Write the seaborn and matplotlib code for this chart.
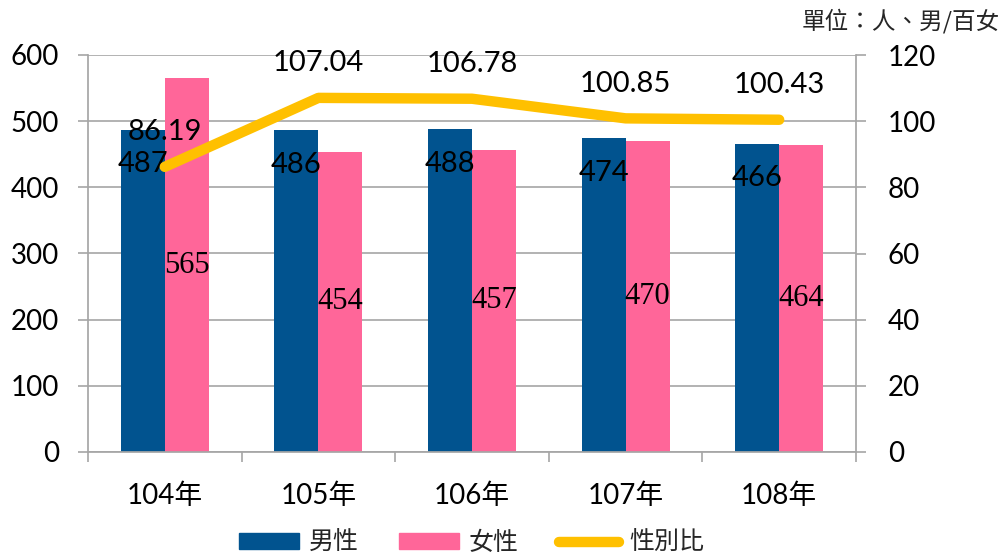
import pandas as pd
import seaborn as sns
import matplotlib.pyplot as plt

# 資料
years = ['104年', '105年', '106年', '107年', '108年']
male = [487, 486, 488, 474, 466]
female = [565, 454, 457, 470, 464]
ratio = [86.19, 107.04, 106.78, 100.85, 100.43]

male_color = '#01538F'
female_color = '#FF6699'
line_color = '#FFC000'
grid_color = '#A6A6A6'

sns.set_theme(style='white')
plt.rcParams['font.family'] = ['Lato', 'Noto Sans CJK TC', 'DejaVu Sans']

df = pd.DataFrame({
    '年': years * 2,
    '人數': male + female,
    '性別': ['男性'] * len(years) + ['女性'] * len(years),
})

fig = plt.figure(figsize=(10.03, 5.6), dpi=100)
ax = fig.add_axes([88 / 1003, 1 - 452 / 560, (856 - 88) / 1003, (452 - 55) / 560])

sns.barplot(data=df, x='年', y='人數', hue='性別', palette=[male_color, female_color],
            width=0.574, saturation=1, linewidth=0, ax=ax, legend=False)

ax.set_ylim(0, 600)
ax.set_yticks(range(0, 601, 100))
ax.set_xlabel('')
ax.set_ylabel('')
ax.yaxis.grid(True, color=grid_color, linewidth=1.2)
ax.set_axisbelow(True)

# 數值標籤
for p, v in zip(ax.containers[0], male):
    ax.annotate(str(v), (p.get_x() + p.get_width() / 2, p.get_height()),
                xytext=(0, -25), textcoords='offset points', ha='center', va='center',
                fontsize=21, color='black', family='Lato')
for p, v in zip(ax.containers[1], female):
    ax.annotate(str(v), (p.get_x() + p.get_width() / 2, p.get_height() / 2),
                ha='center', va='center', fontsize=22, color='black',
                family='Liberation Serif')

ax2 = ax.twinx()
sns.pointplot(x=years, y=ratio, color=line_color, linewidth=7.5, markersize=0,
              solid_capstyle='round', ax=ax2)
ax2.set_ylim(0, 120)
ax2.set_yticks(range(0, 121, 20))
ax2.set_xlim(-0.5, len(years) - 0.5)
for xi, v in enumerate(ratio):
    ax2.annotate(f'{v:.2f}', (xi, v), xytext=(0, 25), textcoords='offset points',
                 ha='center', va='center', fontsize=21, color='black', family='Lato')

# 座標軸外觀
for a in (ax, ax2):
    for s in a.spines.values():
        s.set_visible(False)
ax.spines['left'].set_visible(True)
ax.spines['left'].set_color(grid_color)
ax.spines['bottom'].set_visible(True)
ax.spines['bottom'].set_color(grid_color)
ax2.spines['right'].set_visible(True)
ax2.spines['right'].set_color(grid_color)

ax.tick_params(axis='y', left=True, length=7, width=1.2, color=grid_color, pad=14,
               labelsize=20, labelcolor='black')
ax2.tick_params(axis='y', right=True, length=7, width=1.2, color=grid_color, pad=16,
                labelsize=20, labelcolor='black')
ax.set_xticks(range(len(years)))
ax.set_xticklabels(years)
ax.set_xticks([i - 0.5 for i in range(len(years) + 1)], minor=True)
ax.tick_params(axis='x', which='major', bottom=False, pad=16, labelsize=20, labelcolor='black')
ax.tick_params(axis='x', which='minor', bottom=True, length=7, width=1.2, color=grid_color)
ax2.set_xlabel('')

# 單位
fig.text(0.997, 0.962, '單位：人、男/百女', ha='right', va='center', fontsize=17,
         family=['Noto Sans CJK TC', 'DejaVu Sans'])

# 圖例
handles = [
    plt.Rectangle((0, 0), 1, 1, color=male_color),
    plt.Rectangle((0, 0), 1, 1, color=female_color),
    plt.Line2D([0], [0], color=line_color, linewidth=7.5, solid_capstyle='round'),
]
fig.legend(handles, ['男性', '女性', '性別比'], loc='center', bbox_to_anchor=(0.47, 0.03),
           ncol=3, frameon=False, handlelength=2.4, handleheight=0.6, handletextpad=0.4,
           columnspacing=1.6, prop={'family': 'Noto Sans CJK TC', 'size': 18})

fig.savefig('out.png', dpi=100)
